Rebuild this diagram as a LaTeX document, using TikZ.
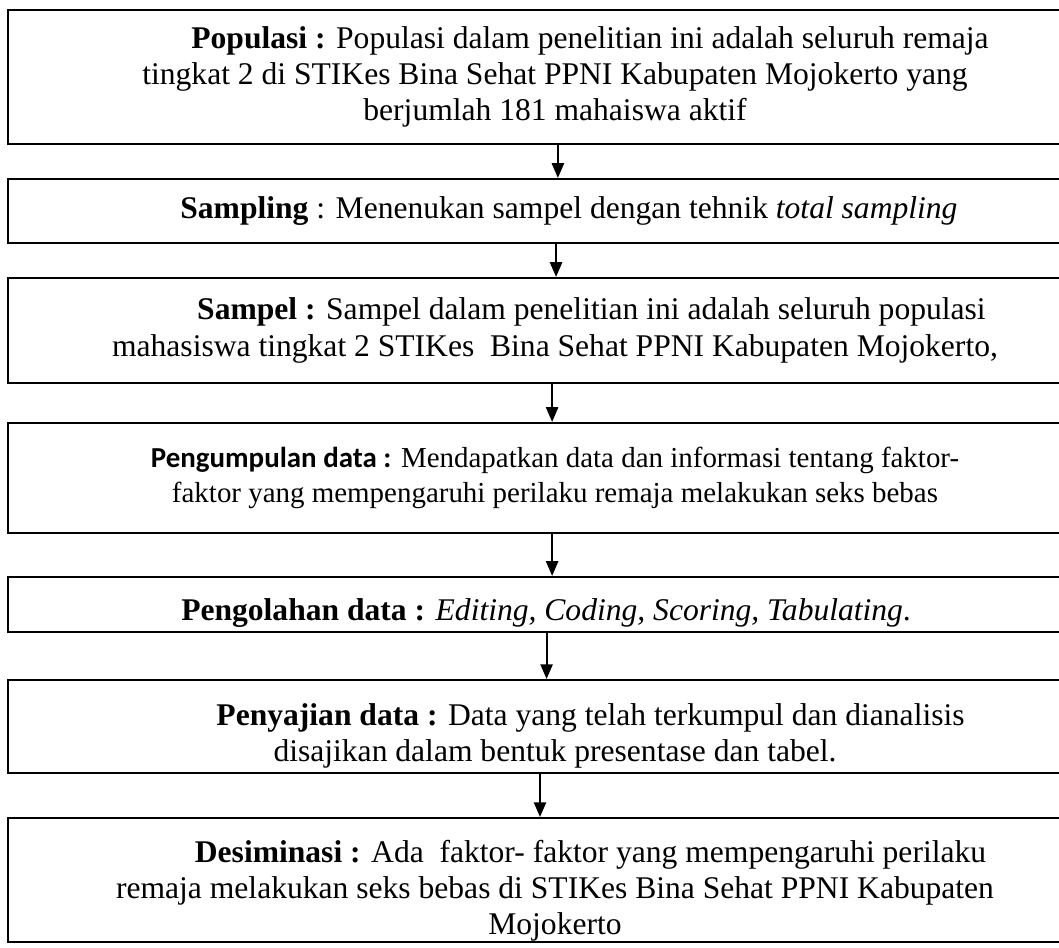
\documentclass[tikz,border=0pt]{standalone}
\usepackage{fontspec}
\setmainfont{Liberation Serif}
\newfontfamily\calibrifont{Carlito}
\usetikzlibrary{arrows.meta}

\begin{document}
\begin{tikzpicture}[x=0.38pt, y=-0.38pt,
        box/.style={rectangle, draw=black, line width=0.8pt, minimum width=415.7pt, inner sep=0pt, align=center, font=\fontsize{12}{13.8}\selectfont},
        flow/.style={-{Triangle[width=4.6pt,length=5.6pt]}, line width=0.8pt}]
    \useasboundingbox (0,0) rectangle (1059,947);
    \clip (0,0) rectangle (1059,947);

    \node[box, minimum height=50.9pt] (pop) at (555,77) {\hspace*{26.6pt}\textbf{Populasi :} Populasi dalam penelitian ini adalah seluruh remaja\\ tingkat 2 di STIKes Bina Sehat PPNI Kabupaten Mojokerto yang\\ berjumlah 181 mahaiswa aktif};
    \node[box, minimum height=24.3pt] (smpg) at (555,211) {\hspace*{10.6pt}\textbf{Sampling} : Menenukan sampel dengan tehnik \textit{total sampling}};
    \node[box, minimum height=39.9pt] (smpl) at (555,330.5) {\hspace*{27.7pt}\textbf{Sampel :} Sampel dalam penelitian ini adalah seluruh populasi\\ mahasiswa tingkat 2 STIKes\ \ Bina Sehat PPNI Kabupaten Mojokerto,};
    \node[box, minimum height=41.8pt, font=\fontsize{11}{13.3}\selectfont] (kumpul) at (555,478) {{\calibrifont\bfseries Pengumpulan data :} Mendapatkan data dan informasi tentang faktor-\\ faktor yang mempengaruhi perilaku remaja melakukan seks bebas};
    \node[box, minimum height=20.9pt] (olah) at (555,604.5) {\rule{0pt}{15pt}\textbf{Pengolahan data :} \textit{Editing, Coding, Scoring, Tabulating}.\hspace*{6.8pt}};
    \node[box, minimum height=35.3pt] (saji) at (555,726.5) {\rule{0pt}{15.5pt}\hspace*{27pt}\textbf{Penyajian data :} Data yang telah terkumpul dan dianalisis\\ disajikan dalam bentuk presentase dan tabel.};
    \node[box, minimum height=47.1pt] (desi) at (555,880) {\rule{0pt}{16.5pt}\hspace*{27pt}\textbf{Desiminasi :} Ada\ \ faktor- faktor yang mempengaruhi perilaku\\ remaja melakukan seks bebas di STIKes Bina Sehat PPNI Kabupaten\\ Mojokerto};

    \draw[flow] ([xshift=1.1pt]pop.south) -- ([xshift=1.1pt]smpg.north);
    \draw[flow] ([xshift=0.4pt]smpg.south) -- ([xshift=0.4pt]smpl.north);
    \draw[flow] ([xshift=-1.1pt]smpl.south) -- ([xshift=-1.1pt]kumpul.north);
    \draw[flow] ([xshift=-1.1pt]kumpul.south) -- ([xshift=-1.1pt]olah.north);
    \draw[flow] ([xshift=-3.2pt]olah.south) -- ([xshift=-3.2pt]saji.north);
    \draw[flow] ([xshift=-5.7pt]saji.south) -- ([xshift=-5.7pt]desi.north);
\end{tikzpicture}
\end{document}
